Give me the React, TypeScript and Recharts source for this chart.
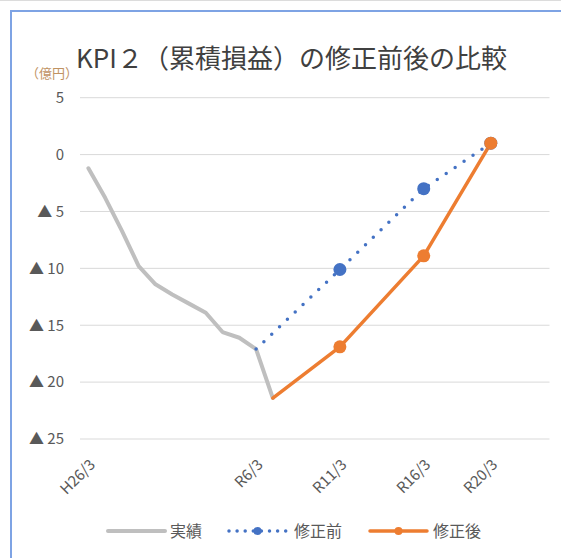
import React from "react";
import { LineChart, Line, XAxis, YAxis, CartesianGrid, Legend } from "recharts";

// fiscal year ends (March), H26/3 .. R23/3
const categories = [
  "H26/3", "H27/3", "H28/3", "H29/3", "H30/3", "H31/3",
  "R2/3", "R3/3", "R4/3", "R5/3", "R6/3", "R7/3", "R8/3", "R9/3",
  "R10/3", "R11/3", "R12/3", "R13/3", "R14/3", "R15/3", "R16/3",
  "R17/3", "R18/3", "R19/3", "R20/3", "R21/3", "R22/3", "R23/3",
];
const shownTicks = ["H26/3", "R6/3", "R11/3", "R16/3", "R20/3"];
const yTicks = [5, 0, -5, -10, -15, -20, -25];

// 実績 (H26/3 .. R7/3)
const actualValues = [
  -1.2, -3.8, -6.7, -9.8, -11.4, -12.3, -13.1, -13.9, -15.6, -16.1, -17.1, -21.4,
];
// 修正前
const beforeCats = ["R6/3", "R11/3", "R16/3", "R20/3"];
const beforeValues = [-17.1, -10.1, -3.0, 1.0];
// 修正後
const afterCats = ["R7/3", "R11/3", "R16/3", "R20/3"];
const afterValues = [-21.4, -16.9, -8.9, 1.0];

const seriesNames = ["実績", "修正前", "修正後"];

const GRAY = "#BFBFBF";
const BLUE = "#4472C4";
const ORANGE = "#ED7D31";
const TEXT = "#595959";
const FONT = "'Noto Sans CJK JP', 'Noto Sans', sans-serif";

const data = categories.map((cat, i) => {
  const b = beforeCats.indexOf(cat);
  const a = afterCats.indexOf(cat);
  return {
    cat,
    actual: i < actualValues.length ? actualValues[i] : null,
    before: b >= 0 ? beforeValues[b] : null,
    after: a >= 0 ? afterValues[a] : null,
  };
});

const fmtY = (v: number) => (v < 0 ? `▲ ${-v}` : `${v}`);

const XTick = (props: any) => {
  const { x, y, payload } = props;
  if (!shownTicks.includes(payload.value)) return <g />;
  return (
    <g transform={`translate(${x + 4},${y + 23})`}>
      <text
        x={0}
        y={0}
        dy="0.35em"
        textAnchor="end"
        transform="rotate(-45)"
        fill={TEXT}
        fontSize={15}
        fontFamily={FONT}
      >
        {payload.value}
      </text>
    </g>
  );
};

const makeDot = (color: string, skip: string) => (props: any) => {
  const { cx, cy, index, payload, value } = props;
  if (cx == null || cy == null || value == null || payload.cat === skip) {
    return <g key={`d${index}`} />;
  }
  return <circle key={`d${index}`} cx={cx} cy={cy} r={6.5} fill={color} stroke="none" />;
};

const legendX = [
  { icon: 108, text: 170 },
  { icon: 229, text: 294 },
  { icon: 370, text: 433 },
];

const renderLegend = () => (
  <svg width={561} height={30}>
    {seriesNames.map((name, i) => {
      const pos = legendX[i];
      const x1 = pos.icon;
      const x2 = pos.icon + 57;
      const mid = (x1 + x2) / 2;
      let icon;
      if (i === 0) {
        icon = <line x1={x1} x2={x2} y1={15} y2={15} stroke={GRAY} strokeWidth={4} strokeLinecap="round" />;
      } else if (i === 1) {
        icon = (
          <g>
            <line x1={x1} x2={x2} y1={15} y2={15} stroke={BLUE} strokeWidth={3.5} strokeLinecap="round" strokeDasharray="0 8.1" />
            <circle cx={mid} cy={15} r={4} fill={BLUE} />
          </g>
        );
      } else {
        icon = (
          <g>
            <line x1={x1} x2={x2} y1={15} y2={15} stroke={ORANGE} strokeWidth={3.5} strokeLinecap="round" />
            <circle cx={mid} cy={15} r={4} fill={ORANGE} />
          </g>
        );
      }
      return (
        <g key={name}>
          {icon}
          <text x={pos.text} y={15} dy="0.35em" fill={TEXT} fontSize={16} fontFamily={FONT}>
            {name}
          </text>
        </g>
      );
    })}
  </svg>
);

export default function App() {
  return (
    <div
      style={{
        position: "fixed",
        left: 0,
        top: 0,
        width: 561,
        height: 558,
        background: "#fff",
        overflow: "hidden",
        fontFamily: FONT,
      }}
    >
      <div style={{ position: "absolute", left: 0, top: 0, width: 561, height: 1, background: "#dcdcdc" }} />
      <div
        style={{
          position: "absolute",
          left: 10,
          top: 10,
          width: 600,
          height: 600,
          borderLeft: "2px solid #7ea3e4",
          borderTop: "2px solid #7ea3e4",
        }}
      />
      <div
        style={{
          position: "absolute",
          left: 0,
          top: 43,
          width: 583,
          textAlign: "center",
          fontSize: 26,
          lineHeight: "28px",
          color: "#404040",
          whiteSpace: "nowrap",
        }}
      >
        KPI２（累積損益）の修正前後の比較
      </div>
      <div
        style={{
          position: "absolute",
          left: 26,
          top: 65,
          fontSize: 13,
          lineHeight: "16px",
          color: "#C09262",
          whiteSpace: "nowrap",
        }}
      >
        （億円）
      </div>
      <div style={{ position: "absolute", left: 0, top: 0 }}>
        <LineChart
          width={561}
          height={558}
          data={data}
          margin={{ top: 97.7, right: 11.5, bottom: 89, left: 0 }}
        >
          <CartesianGrid vertical={false} stroke="#D9D9D9" strokeWidth={1} />
          <XAxis
            dataKey="cat"
            interval={0}
            axisLine={false}
            tickLine={false}
            tickSize={0}
            tickMargin={0}
            height={30}
            padding={{ left: 8.4, right: 8.4 }}
            tick={<XTick />}
          />
          <YAxis
            domain={[-25, 5]}
            ticks={yTicks}
            width={80}
            axisLine={false}
            tickLine={false}
            tickSize={0}
            tickMargin={16}
            tickFormatter={fmtY}
            tick={{ fill: TEXT, fontSize: 15, fontFamily: FONT }}
          />
          <Legend
            layout="horizontal"
            verticalAlign="middle"
            align="center"
            content={renderLegend}
            wrapperStyle={{ top: 516, left: 0, width: 561, height: 30 }}
          />
          <Line
            name="実績"
            dataKey="actual"
            stroke={GRAY}
            strokeWidth={4}
            strokeLinejoin="round"
            strokeLinecap="round"
            dot={false}
            activeDot={false}
            isAnimationActive={false}
          />
          <Line
            name="修正前"
            dataKey="before"
            stroke={BLUE}
            strokeWidth={3.5}
            strokeLinecap="round"
            strokeDasharray="0 10.8"
            connectNulls
            dot={makeDot(BLUE, "R6/3")}
            activeDot={false}
            isAnimationActive={false}
          />
          <Line
            name="修正後"
            dataKey="after"
            stroke={ORANGE}
            strokeWidth={3.5}
            strokeLinecap="round"
            strokeLinejoin="round"
            connectNulls
            dot={makeDot(ORANGE, "R7/3")}
            activeDot={false}
            isAnimationActive={false}
          />
        </LineChart>
      </div>
    </div>
  );
}
